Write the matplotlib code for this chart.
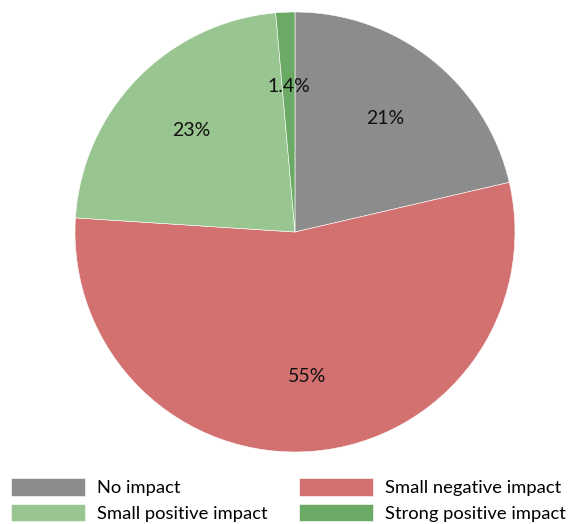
import numpy as np
import matplotlib.pyplot as plt

plt.rcParams['font.family'] = ['Lato', 'DejaVu Sans']

categories = ['No impact', 'Small negative impact', 'Small positive impact', 'Strong positive impact']
shares = [21.4, 54.7, 22.6, 1.4]
labels_pct = ['21%', '55%', '23%', '1.4%']
colors = ['#8c8c8c', '#d37171', '#99c590', '#6aaa64']

fig = plt.figure(figsize=(5.71, 5.24), dpi=100)
ax = fig.add_axes([0.1313, 0.1374, 0.7706, 0.8397])

wedges, texts = ax.pie(shares, colors=colors, startangle=90, counterclock=False,
                       radius=1, wedgeprops=dict(edgecolor='white', linewidth=0.4))
for w, lab in zip(wedges, labels_pct):
    ang = np.deg2rad((w.theta1 + w.theta2) / 2)
    ax.text(0.66 * np.cos(ang), 0.66 * np.sin(ang), lab, ha='center', va='center',
            fontsize=14, color='#111111')
ax.set_xlim(-1, 1)
ax.set_ylim(-1, 1)
ax.set_aspect('equal')
ax.axis('off')

order = [0, 2, 1, 3]
fig.legend([wedges[i] for i in order], [categories[i] for i in order],
           ncol=2, loc='upper left', bbox_to_anchor=(0.02, 0.087),
           frameon=False, fontsize=13.2, handlelength=4.0, handleheight=1.1,
           handletextpad=0.65, columnspacing=1.75, labelspacing=0.4,
           borderaxespad=0, borderpad=0)

fig.savefig('out.png', dpi=100)
